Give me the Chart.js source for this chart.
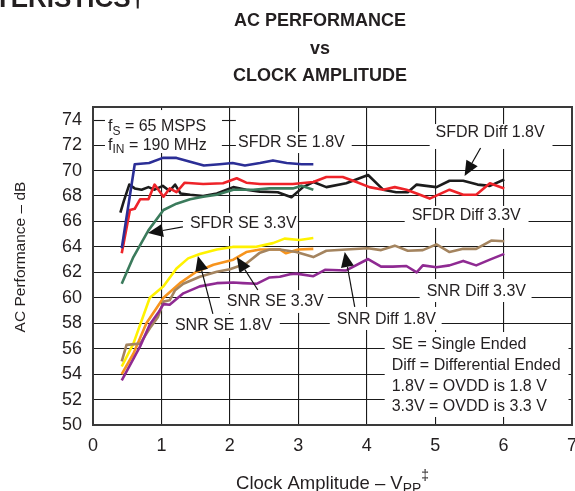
<!DOCTYPE html>
<html><head><meta charset="utf-8">
<script src="https://cdn.jsdelivr.net/npm/chart.js@4.4.1/dist/chart.umd.min.js"></script>
<style>
html,body{margin:0;padding:0;overflow:hidden;background:#fff;width:575px;height:491px}
#wrap{position:absolute;left:0;top:0;width:600px;height:491px}
</style>
</head><body><div id="wrap"><canvas id="c" width="600" height="491"></canvas></div>
<script>
// ---- tick labels ----
const xTicks = [0, 1, 2, 3, 4, 5, 6, 7];
const yTicks = [50, 52, 54, 56, 58, 60, 62, 64, 66, 68, 70, 72, 74];

// ---- series (x = clock amplitude Vpp, y = dB) ----
const sfdrSE18X = [0.42,0.61,0.82,1.02,1.22,1.42,1.62,1.85,2.04,2.22,2.44,2.63,2.83,3.05,3.22];
const sfdrSE18Y = [63.9,70.5,70.6,71.0,71.0,70.7,70.4,70.5,70.6,70.4,70.6,70.8,70.6,70.5,70.5];

const sfdrDiff18X = [0.40,0.45,0.53,0.61,0.71,0.81,0.90,1.02,1.12,1.20,1.28,1.42,1.61,1.81,2.05,2.24,2.44,2.70,2.90,3.07,3.22,3.41,3.70,4.02,4.24,4.43,4.60,4.73,4.87,5.02,5.21,5.41,5.62,5.80,6.01];
const sfdrDiff18Y = [66.7,67.6,68.9,68.6,68.5,68.7,68.5,68.8,68.4,68.9,68.2,68.1,68.0,68.2,68.7,68.5,68.35,68.3,67.9,68.7,69.1,68.7,69.0,69.65,68.5,68.3,68.3,68.9,68.8,68.7,69.2,69.2,68.9,68.8,69.3];

const sfdrDiff33X = [0.42,0.54,0.61,0.69,0.81,0.90,1.03,1.12,1.22,1.34,1.61,1.90,2.10,2.24,2.44,2.92,3.22,3.41,3.65,3.85,4.04,4.24,4.41,4.58,4.73,4.92,5.21,5.41,5.60,5.80,6.01];
const sfdrDiff33Y = [63.5,66.9,67.0,67.75,67.75,68.9,67.95,68.6,68.3,69.05,68.95,69.0,69.4,69.05,68.95,68.95,69.1,69.5,69.5,69.1,68.7,68.5,68.7,68.5,68.2,67.8,68.5,68.1,68.1,69.0,68.6];

const sfdrSE33X = [0.42,0.59,0.81,1.03,1.22,1.42,1.61,1.81,2.05,2.34,2.58,2.92,3.05,3.22];
const sfdrSE33Y = [61.1,63.2,65.3,66.9,67.4,67.75,67.95,68.1,68.5,68.5,68.6,68.6,68.8,68.5];

const snrSE18X = [0.42,0.59,0.83,1.03,1.22,1.39,1.56,1.81,2.04,2.37,2.63,2.80,3.02,3.22];
const snrSE18Y = [54.6,56.4,60.0,60.9,62.3,63.1,63.45,63.8,64.0,64.0,64.3,64.65,64.55,64.7];

const snrSE33X = [0.42,0.59,0.78,1.03,1.27,1.51,1.76,2.05,2.24,2.44,2.73,2.82,3.00,3.22];
const snrSE33Y = [54.0,55.6,58.0,60.0,61.15,62.05,62.6,63.0,63.6,63.8,63.8,63.5,63.8,63.85];

const snrDiff18X = [0.42,0.49,0.69,0.83,0.95,1.03,1.12,1.20,1.32,1.56,1.81,2.00,2.24,2.44,2.58,2.73,2.97,3.22,3.41,3.70,4.02,4.21,4.41,4.60,4.82,5.02,5.21,5.41,5.60,5.82,6.01];
const snrDiff18Y = [55.0,56.3,56.4,57.6,58.5,59.7,59.8,60.6,61.1,61.65,62.05,62.25,62.7,63.55,63.8,63.8,63.6,63.2,63.7,63.8,63.9,63.75,64.1,63.7,63.75,64.2,63.6,63.85,63.85,64.5,64.45];

const snrDiff33X = [0.42,0.59,0.69,0.83,0.95,1.03,1.12,1.32,1.56,1.81,2.05,2.19,2.39,2.58,2.73,2.88,2.97,3.22,3.39,3.70,4.02,4.21,4.38,4.58,4.73,4.82,5.02,5.21,5.41,5.60,5.80,6.01];
const snrDiff33Y = [53.5,55.2,56.2,57.9,58.8,59.5,59.45,60.35,60.9,61.15,61.2,61.15,61.1,61.6,61.65,61.85,61.9,61.7,62.2,62.15,63.05,62.45,62.45,62.5,62.0,62.55,62.4,62.55,62.9,62.55,63.0,63.45];

// ---- chart texts ----
const titleLines = ['AC PERFORMANCE', 'vs', 'CLOCK AMPLITUDE'];
const pageHeading = 'TYPICAL CHARACTERISTICS\u2020';
const yTitle = 'AC Performance \u2013 dB';
const xTitle = [{t:'Clock Amplitude \u2013 V'},{t:'PP',sub:true},{t:'\u2021',sup:true}];

// the top (74 dB) grid line is only visible in two short pieces
const grid74Pieces = [[0, 0.175], [1.883, 2.088]];

const FONT = '"Liberation Sans", Arial, Helvetica, sans-serif';

function pts(xs, ys){ return xs.map((x,i)=>({x:x, y:ys[i]})); }

// annotation definitions (positions in data units)
const annotations = [
  {lines:[[{t:'f'},{t:'S',sub:true},{t:' = 65 MSPS'}],[{t:'f'},{t:'IN',sub:true},{t:' = 190 MHz'}]],
   tx:0.219, ty:[73.45,72.0], box:[0.175,74.76,1.883,71.38]},
  {lines:[[{t:'SFDR SE 1.8V'}]], tx:2.12, ty:[72.19], box:[2.088,73.03,3.781,71.38]},
  {lines:[[{t:'SFDR Diff 1.8V'}]], tx:5.007, ty:[72.96], box:[4.92,73.66,6.715,71.70],
   arrow:[5.664,71.78,5.43,69.58]},
  {lines:[[{t:'SFDR Diff 3.3V'}]], tx:4.657, ty:[66.43], box:[4.555,67.22,6.365,65.49]},
  {lines:[[{t:'SFDR SE 3.3V'}]], tx:1.416, ty:[65.80], box:[1.314,66.67,2.993,64.86],
   arrow:[1.314,65.57,0.803,65.09]},
  {lines:[[{t:'SNR SE 3.3V'}]], tx:1.956, ty:[59.69], box:[1.854,60.61,3.431,58.81],
   arrow:[2.409,60.61,2.102,63.21]},
  {lines:[[{t:'SNR SE 1.8V'}]], tx:1.197, ty:[57.78], box:[1.095,58.73,2.730,56.84],
   arrow:[1.752,58.73,1.533,63.29]},
  {lines:[[{t:'SNR Diff 3.3V'}]], tx:4.876, ty:[60.45], box:[4.774,61.48,6.409,59.67]},
  {lines:[[{t:'SNR Diff 1.8V'}]], tx:3.562, ty:[58.3], box:[3.460,59.28,5.095,57.47],
   arrow:[3.825,59.28,3.679,63.6]},
  {lines:[[{t:'SE = Single Ended'}],[{t:'Diff = Differential Ended'}],[{t:'1.8V = OVDD is 1.8 V'}],[{t:'3.3V = OVDD is 3.3 V'}]],
   tx:4.365, ty:[56.35,54.7,53.05,51.45], box:[4.263,57.31,6.949,50.63]}
];

function segWidth(ctx, segs, size){
  let w = 0;
  for (const s of segs){
    const fs = (s.sub||s.sup) ? size*0.75 : size;
    ctx.font = fs + 'px ' + FONT;
    w += ctx.measureText(s.t).width;
  }
  return w;
}
function drawSegs(ctx, segs, x, y, size){
  let cx = x;
  ctx.textAlign = 'left';
  ctx.textBaseline = 'middle';
  for (const s of segs){
    const fs = (s.sub||s.sup) ? size*0.75 : size;
    ctx.font = fs + 'px ' + FONT;
    const dy = s.sub ? size*0.3 : (s.sup ? -size*0.42 : 0);
    ctx.fillText(s.t, cx, y + dy);
    cx += ctx.measureText(s.t).width;
  }
}
function arrow(ctx, x0, y0, x1, y1){
  const ang = Math.atan2(y1-y0, x1-x0);
  const L = 15, W = 6.5;
  const bx = x1 - L*Math.cos(ang), by = y1 - L*Math.sin(ang);
  ctx.strokeStyle = '#111'; ctx.lineWidth = 1.2;
  ctx.beginPath(); ctx.moveTo(x0,y0); ctx.lineTo(bx,by); ctx.stroke();
  ctx.fillStyle = '#111';
  ctx.beginPath();
  ctx.moveTo(x1,y1);
  ctx.lineTo(bx + W*Math.sin(ang), by - W*Math.cos(ang));
  ctx.lineTo(bx - W*Math.sin(ang), by + W*Math.cos(ang));
  ctx.closePath(); ctx.fill();
}

const decor = {
  id:'decor',
  beforeDatasetsDraw(chart){
    const ctx = chart.ctx, xs = chart.scales.x, ys = chart.scales.y;
    ctx.save();
    ctx.strokeStyle = '#1a1a1a'; ctx.lineWidth = 1.1;
    const py = Math.round(ys.getPixelForValue(74)) + 0.5;
    for (const [a0, a1] of grid74Pieces){
      ctx.beginPath();
      ctx.moveTo(xs.getPixelForValue(a0), py);
      ctx.lineTo(xs.getPixelForValue(a1), py);
      ctx.stroke();
    }
    ctx.restore();
  },
  afterDatasetsDraw(chart){
    const ctx = chart.ctx, xs = chart.scales.x, ys = chart.scales.y, a = chart.chartArea;
    ctx.save();
    for (const an of annotations){
      const [bx0,by0,bx1,by1] = an.box;
      const px0 = xs.getPixelForValue(bx0), py0 = ys.getPixelForValue(by0);
      const px1 = Math.min(xs.getPixelForValue(bx1), a.right-1.5), py1 = Math.min(ys.getPixelForValue(by1), a.bottom-1.5);
      ctx.fillStyle = '#fff';
      ctx.fillRect(px0, py0, px1-px0, py1-py0);
    }
    for (const an of annotations){
      ctx.fillStyle = '#231f20';
      an.lines.forEach((segs,i)=>{
        drawSegs(ctx, segs, xs.getPixelForValue(an.tx), ys.getPixelForValue(an.ty[i]), 16);
      });
      if (an.arrow){
        const [x0,y0,x1,y1] = an.arrow;
        arrow(ctx, xs.getPixelForValue(x0), ys.getPixelForValue(y0), xs.getPixelForValue(x1), ys.getPixelForValue(y1));
      }
    }
    ctx.strokeStyle = '#3a3a3a'; ctx.lineWidth = 2;
    ctx.strokeRect(a.left, a.top, a.right - a.left, a.bottom - a.top);
    ctx.restore();
  },
  afterDraw(chart){
    const ctx = chart.ctx, a = chart.chartArea;
    ctx.save();
    ctx.fillStyle = '#231f20';
    ctx.font = 'bold 26px ' + FONT;
    ctx.textAlign = 'right'; ctx.textBaseline = 'alphabetic';
    ctx.fillText(pageHeading, 145, 7);
    const tcx = 320;
    ctx.font = 'bold 18px ' + FONT;
    ctx.textAlign = 'center';
    const tb = [26, 54, 81];
    titleLines.forEach((t,i)=>ctx.fillText(t, tcx, tb[i]));
    ctx.save();
    ctx.translate(21, 257);
    ctx.rotate(-Math.PI/2);
    ctx.font = '15.5px ' + FONT;
    ctx.textAlign = 'center'; ctx.textBaseline = 'middle';
    ctx.fillText(yTitle, 0, 0);
    ctx.restore();
    const cx = (a.left + a.right)/2;
    const w = segWidth(ctx, xTitle, 18.5);
    drawSegs(ctx, xTitle, cx - w/2, 484, 18.5);
    ctx.restore();
  }
};

const mk = (label, xs, ys, color) => ({
  label, data: pts(xs, ys), borderColor: color, backgroundColor: color,
  borderWidth: 2.6, pointRadius: 0, showLine: true, tension: 0, borderJoinStyle:'round'
});

new Chart(document.getElementById('c'), {
  type: 'scatter',
  data: { datasets: [
    mk('SFDR SE 3.3V', sfdrSE33X, sfdrSE33Y, '#3b7b5c'),
    mk('SFDR SE 1.8V', sfdrSE18X, sfdrSE18Y, '#2b2e96'),
    mk('SFDR Diff 3.3V', sfdrDiff33X, sfdrDiff33Y, '#ee2329'),
    mk('SFDR Diff 1.8V', sfdrDiff18X, sfdrDiff18Y, '#1c1c1c'),
    mk('SNR Diff 3.3V', snrDiff33X, snrDiff33Y, '#8f2a92'),
    mk('SNR Diff 1.8V', snrDiff18X, snrDiff18Y, '#a4845f'),
    mk('SNR SE 3.3V', snrSE33X, snrSE33Y, '#f7941d'),
    mk('SNR SE 1.8V', snrSE18X, snrSE18Y, '#fff200')
  ]},
  options: {
    responsive: false, animation: false, devicePixelRatio: 1,
    layout: { padding: { top: 107, right: 28, left: 0, bottom: 0 } },
    plugins: { legend: { display: false }, tooltip: { enabled: false }, title: { display: false } },
    scales: {
      x: {
        type: 'linear', min: 0, max: 7,
        afterBuildTicks: s => { s.ticks = xTicks.map(v => ({ value: v })); },
        afterFit: s => { s.height = 66; },
        grid: { color: '#1a1a1a', lineWidth: 1.1, drawTicks: false },
        border: { display: true, color: '#3a3a3a', width: 2 },
        ticks: { padding: 10, color: '#231f20', font: { size: 18, family: FONT }, maxRotation: 0, autoSkip: false }
      },
      y: {
        type: 'linear', min: 50, max: 75,
        afterBuildTicks: s => { s.ticks = yTicks.map(v => ({ value: v })); },
        afterFit: s => { s.width = 93; },
        grid: { color: c => (c.tick && c.tick.value === 74) ? 'rgba(0,0,0,0)' : '#1a1a1a', lineWidth: 1.1, drawTicks: false },
        border: { display: true, color: '#3a3a3a', width: 2 },
        ticks: { padding: 11, color: '#231f20', font: { size: 18, family: FONT }, autoSkip: false }
      }
    }
  },
  plugins: [decor]
});
</script>
</body></html>
